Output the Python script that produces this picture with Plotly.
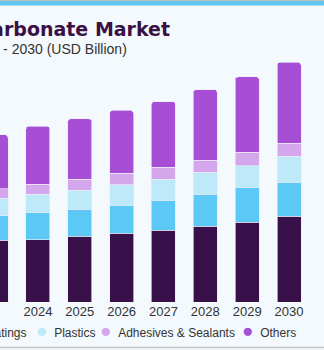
import plotly.graph_objects as go

# ---- data (USD Billion) ----
years = ["2023", "2024", "2025", "2026", "2027", "2028", "2029", "2030"]
series_names = ["Paper", "Paints & Coatings", "Plastics", "Adhesives & Sealants", "Others"]
paper = [1.54, 1.56, 1.64, 1.72, 1.80, 1.89, 2.00, 2.14]
paints_coatings = [0.62, 0.69, 0.68, 0.70, 0.74, 0.81, 0.86, 0.86]
plastics = [0.44, 0.44, 0.48, 0.51, 0.53, 0.55, 0.55, 0.64]
adhesives_sealants = [0.23, 0.25, 0.27, 0.29, 0.30, 0.30, 0.33, 0.33]
others = [1.35, 1.45, 1.51, 1.57, 1.64, 1.76, 1.89, 2.02]
series_values = [paper, paints_coatings, plastics, adhesives_sealants, others]
colors = ["#38104a", "#5bc8f6", "#bde9f9", "#d4a6ec", "#a64fd6"]

title_text = "U.S. Calcium Carbonate Market"
subtitle_text = "size, by application, 2018 - 2030 (USD Billion)"

# ---- layout geometry ----
W, H = 324, 350
MT, MB = 50, 48
PLOT_BOTTOM = H - MB
PLOT_H = H - MT - MB


def px_x(px):
    return px / W


def px_y(py):
    return (PLOT_BOTTOM - py) / PLOT_H


fig = go.Figure()
for name, vals, col in zip(series_names, series_values, colors):
    fig.add_trace(go.Bar(
        x=years, y=vals, name=name, marker_color=col,
        marker_line=dict(color="rgba(235,235,245,0.8)", width=0.8),
        width=0.573, showlegend=False, hoverinfo="skip",
    ))

annotations = [
    dict(text="<b>" + title_text + "</b>", x=px_x(171.5), y=px_y(28.5), xref="paper", yref="paper",
         xanchor="right", yanchor="middle", showarrow=False,
         font=dict(family="DejaVu Sans", size=19, color="#3a1045")),
    dict(text=subtitle_text, x=px_x(129), y=px_y(49), xref="paper", yref="paper",
         xanchor="right", yanchor="middle", showarrow=False,
         font=dict(family="Liberation Sans", size=14, color="#333333")),
]

# legend items (left edge of item, px)
legend_left = [-146, -89, 34, 98, 240]
for name, col, lx in zip(series_names, colors, legend_left):
    annotations.append(dict(
        text="<span style='color:%s;font-size:19px'>●</span>\u00a0\u00a0%s" % (col, name),
        x=px_x(lx), y=px_y(330), xref="paper", yref="paper",
        xanchor="left", yanchor="middle", showarrow=False,
        font=dict(family="Liberation Sans", size=12, color="#333333")))

shapes = [
    dict(type="rect", xref="paper", yref="paper", x0=0, x1=1,
         y0=px_y(5.5), y1=px_y(0), fillcolor="#5ec6f0", line_width=0, layer="above"),
    dict(type="line", xref="paper", yref="paper", x0=0, x1=1,
         y0=px_y(0.5), y1=px_y(0.5), line=dict(color="#bcbcbc", width=1)),
    dict(type="line", xref="paper", yref="paper", x0=0, x1=1,
         y0=px_y(347.5), y1=px_y(347.5), line=dict(color="#c8c8c8", width=1.5)),
]

fig.update_layout(
    width=W, height=H,
    margin=dict(l=0, r=0, t=MT, b=MB, autoexpand=False),
    barmode="stack", barcornerradius=3,
    paper_bgcolor="#f3f9fd", plot_bgcolor="#f3f9fd",
    annotations=annotations, shapes=shapes,
    xaxis=dict(type="category", range=[0.094, 7.836], showgrid=False, zeroline=False,
               showline=False, ticks="", tickfont=dict(family="Liberation Sans", size=13, color="#333333")),
    yaxis=dict(range=[0, PLOT_H / 40.0], visible=False),
    showlegend=False,
)

fig.write_html("out.html")
